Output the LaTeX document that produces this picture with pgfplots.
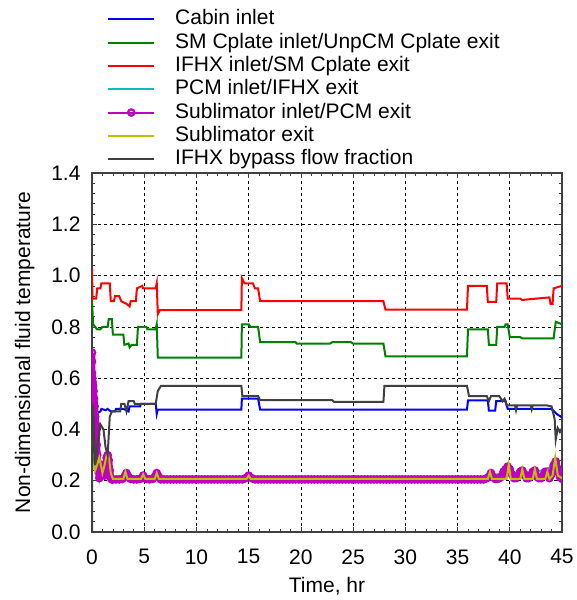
\documentclass[border=0pt]{standalone}
\usepackage{pgfplots}
\usepackage{pgfplotstable}
\pgfplotsset{compat=1.18}
\usepackage{fontspec}
\setmainfont{Liberation Sans}
\definecolor{mblue}{RGB}{0,0,255}
\definecolor{mgreen}{RGB}{0,128,0}
\definecolor{mred}{RGB}{255,0,0}
\definecolor{mcyan}{RGB}{0,191,191}
\definecolor{mmag}{RGB}{191,0,191}
\definecolor{myel}{RGB}{191,191,0}
\definecolor{mgray}{RGB}{64,64,64}
\pgfplotstableread{
x y
0 0.70
0 0.665
0 0.62
0.03 0.60
0.06 0.585
0.1 0.57
0.15 0.55
0.2 0.52
0.25 0.49
0.3 0.45
0.35 0.42
0.4 0.38
0.45 0.34
0.5 0.30
0.55 0.27
0.6 0.24
0.7 0.21
0.8 0.22
0.9 0.25
1.0 0.26
1.1 0.23
1.2 0.22
1.3 0.26
1.4 0.29
1.5 0.30
1.6 0.28
1.7 0.24
1.8 0.21
1.9 0.205
2.0 0.205
2.3 0.205
2.6 0.205
2.9 0.207
3.1 0.215
3.3 0.23
3.5 0.215
3.7 0.207
4.0 0.205
4.3 0.205
4.6 0.207
4.9 0.22
5.2 0.207
5.5 0.205
5.8 0.207
6.0 0.215
6.2 0.23
6.4 0.215
6.6 0.205
6.9 0.205
7.2 0.205
7.5 0.205
7.8 0.205
8.1 0.205
8.4 0.205
8.7 0.205
9.0 0.205
9.3 0.205
9.6 0.205
9.9 0.205
10.2 0.205
10.5 0.205
10.8 0.205
11.1 0.205
11.4 0.205
11.7 0.205
12.0 0.205
12.3 0.205
12.6 0.205
12.9 0.205
13.2 0.205
13.5 0.205
13.8 0.205
14.1 0.205
14.4 0.205
14.7 0.21
15.0 0.22
15.3 0.21
15.6 0.205
15.9 0.205
16.2 0.205
16.5 0.205
16.8 0.205
17.1 0.205
17.4 0.205
17.7 0.205
18.0 0.205
18.3 0.205
18.6 0.205
18.9 0.205
19.2 0.205
19.5 0.205
19.8 0.205
20.1 0.205
20.4 0.205
20.7 0.205
21.0 0.205
21.3 0.205
21.6 0.205
21.9 0.205
22.2 0.205
22.5 0.205
22.8 0.205
23.1 0.205
23.4 0.205
23.7 0.205
24.0 0.205
24.3 0.205
24.6 0.205
24.9 0.205
25.2 0.205
25.5 0.205
25.8 0.205
26.1 0.205
26.4 0.205
26.7 0.205
27.0 0.205
27.3 0.205
27.6 0.205
27.9 0.205
28.2 0.205
28.5 0.205
28.8 0.205
29.1 0.205
29.4 0.205
29.7 0.205
30.0 0.205
30.3 0.205
30.6 0.205
30.9 0.205
31.2 0.205
31.5 0.205
31.8 0.205
32.1 0.205
32.4 0.205
32.7 0.205
33.0 0.205
33.3 0.205
33.6 0.205
33.9 0.205
34.2 0.205
34.5 0.205
34.8 0.205
35.1 0.205
35.4 0.205
35.7 0.205
36.0 0.205
36.3 0.205
36.6 0.205
36.9 0.205
37.2 0.205
37.5 0.205
37.8 0.21
38.0 0.215
38.2 0.23
38.4 0.215
38.6 0.207
38.8 0.207
39.0 0.21
39.2 0.215
39.4 0.235
39.6 0.245
39.8 0.255
40.0 0.245
40.2 0.225
40.4 0.21
40.6 0.21
40.8 0.22
41.0 0.235
41.2 0.24
41.4 0.225
41.6 0.21
41.8 0.21
42.0 0.22
42.2 0.235
42.4 0.24
42.6 0.215
42.8 0.21
43.0 0.21
43.2 0.22
43.4 0.235
43.6 0.22
43.8 0.21
44.0 0.225
44.2 0.26
44.4 0.275
44.6 0.245
44.8 0.215
45 0.207
}\magdata
\begin{document}
\begin{tikzpicture}[font=\fontsize{21}{23}\selectfont]
\path[use as bounding box] (-92pt,-68pt) rectangle (484pt,532pt);
\begin{axis}[
  scale only axis,
  width=470pt, height=359pt,
  xmin=0, xmax=45, ymin=0, ymax=1.4,
  xtick={0,5,...,45},
  ytick={0,0.2,...,1.4},
  minor x tick num=4, minor y tick num=4,
  tick pos=both, tick align=inside,
  major tick length=5pt, minor tick length=3pt,
  tick style={black!75, line width=0.6pt},
  axis line style={black!75, line width=1.1pt},
  grid=major,
  major grid style={black, line width=0.7pt, dash pattern=on 3pt off 3pt},
  /pgf/number format/assume math mode=true,
  yticklabel style={/pgf/number format/.cd, fixed, fixed zerofill, precision=1, /tikz/.cd, xshift=-8pt},
  xticklabel style={yshift=-14pt},
  xlabel={Time, hr}, ylabel={Non-dimensional fluid temperature},
  xlabel style={yshift=-6pt},
  ylabel style={yshift=10pt},
  clip marker paths=true,
  legend cell align=left,
  legend style={draw=none, fill=none, at={(0,1)}, anchor=south west, xshift=15pt, yshift=2pt,
    inner sep=0pt, column sep=19pt, row sep=0pt,
    nodes={inner sep=1pt, text height=16.3pt, text depth=5pt}},
  legend image code/.code={\draw[mark repeat=2,mark phase=2,#1] plot coordinates {(0pt,0pt) (23pt,0pt) (46pt,0pt)};},
]
% Cabin inlet
\addplot[mblue, line width=2pt] coordinates {(0.3,0.46) (0.8,0.47) (0.9,0.48) (1.3,0.475) (1.5,0.48) (1.8,0.47) (2.2,0.47) (2.3,0.48) (3.0,0.48) (3.5,0.47) (3.6,0.49) (4.6,0.49) (4.7,0.50) (6.1,0.50) (6.2,0.46) (6.3,0.477) (14.3,0.477) (14.35,0.52) (15.9,0.52) (16.1,0.477) (35.9,0.477) (36.0,0.513) (37.9,0.513) (38.0,0.473) (38.6,0.473) (38.7,0.51) (39.6,0.51) (39.8,0.48) (44.0,0.48) (44.5,0.46) (45,0.447)};
\addlegendentry{Cabin inlet}
% SM Cplate inlet
\addplot[mgreen, line width=2pt] coordinates {(0,0.91) (0.1,0.81) (0.5,0.79) (0.8,0.79) (1.0,0.80) (1.5,0.80) (1.6,0.83) (1.9,0.83) (2.0,0.77) (3.0,0.77) (3.1,0.73) (3.5,0.735) (3.6,0.72) (3.8,0.73) (4.3,0.73) (4.4,0.80) (5.2,0.80) (5.3,0.79) (6.1,0.79) (6.2,0.81) (6.3,0.68) (14.3,0.68) (14.35,0.81) (15.0,0.81) (15.2,0.80) (15.9,0.80) (16.1,0.74) (19.5,0.74) (19.6,0.735) (22.8,0.735) (23,0.74) (24.8,0.74) (25,0.735) (27.9,0.735) (28.1,0.685) (35.9,0.685) (36.0,0.79) (37.9,0.79) (38,0.73) (38.7,0.73) (38.8,0.80) (39.5,0.80) (39.6,0.81) (39.8,0.81) (40,0.76) (41,0.76) (41.2,0.755) (44.2,0.755) (44.4,0.82) (45,0.81)};
\addlegendentry{SM Cplate inlet/UnpCM Cplate exit}
% IFHX inlet
\addplot[mred, line width=2pt] coordinates {(0,1.03) (0.05,0.91) (0.4,0.91) (0.5,0.95) (0.8,0.95) (0.9,0.97) (1.7,0.97) (1.8,0.90) (2.1,0.90) (2.2,0.92) (2.6,0.92) (2.8,0.90) (3.3,0.89) (3.6,0.88) (3.7,0.90) (4.2,0.90) (4.3,0.95) (4.8,0.96) (4.9,0.95) (6.1,0.95) (6.2,0.97) (6.3,0.85) (6.5,0.865) (14.3,0.865) (14.35,0.99) (14.6,0.97) (15.4,0.97) (15.6,0.95) (15.9,0.95) (16.1,0.90) (27.9,0.90) (28.1,0.867) (35.9,0.867) (36.0,0.96) (37.8,0.96) (37.9,0.897) (38.7,0.897) (38.8,0.97) (39.7,0.97) (39.8,0.91) (41,0.91) (41.2,0.905) (42.5,0.91) (43.8,0.915) (43.9,0.89) (44.1,0.89) (44.2,0.95) (45,0.96)};
\addlegendentry{IFHX inlet/SM Cplate exit}
% PCM inlet (hidden)
\addplot[mcyan, line width=2pt] coordinates {(0,0.68) (0.1,0.57) (0.2,0.52) (0.3,0.45) (0.4,0.38) (0.5,0.30) (0.7,0.21) (0.9,0.26) (1.1,0.22) (1.5,0.29) (1.8,0.21) (2.0,0.205) (3.3,0.22) (3.7,0.205) (4.9,0.21) (5.5,0.205) (6.2,0.22) (6.6,0.205) (14.5,0.205) (15.0,0.21) (15.5,0.205) (37.5,0.205) (39.8,0.24) (40.5,0.21) (42.3,0.23) (44.4,0.26) (45,0.205)};
\addlegendentry{PCM inlet/IFHX exit}
% Sublimator inlet: dense marker band underlay
\addplot[mmag, line width=7pt, line join=round, forget plot] table {\magdata};
\addplot[mmag, line width=2pt, mark=o, mark size=3.2pt, mark options={line width=2.2pt}] table {\magdata};
\addlegendentry{Sublimator inlet/PCM exit}
% Sublimator exit
\addplot[myel, line width=2pt] coordinates {(0,0.36) (0.1,0.33) (0.2,0.28) (0.3,0.24) (0.4,0.25) (0.55,0.27) (0.7,0.29) (0.85,0.26) (1.0,0.23) (1.2,0.26) (1.4,0.30) (1.5,0.31) (1.65,0.28) (1.8,0.23) (2.0,0.207) (3.0,0.207) (3.2,0.235) (3.4,0.207) (4.7,0.207) (4.9,0.225) (5.1,0.207) (6.0,0.207) (6.2,0.23) (6.4,0.207) (14.8,0.207) (15.0,0.22) (15.2,0.207) (37.9,0.207) (38.1,0.235) (38.3,0.207) (39.7,0.207) (39.9,0.265) (40.1,0.207) (41.0,0.207) (41.2,0.245) (41.4,0.207) (42.2,0.207) (42.4,0.245) (42.6,0.207) (43.4,0.207) (43.6,0.235) (43.8,0.207) (44.1,0.22) (44.35,0.29) (44.6,0.22) (45,0.21)};
\addlegendentry{Sublimator exit}
% IFHX bypass flow fraction
\addplot[mgray, line width=2pt] coordinates {(0,0) (0.05,0.5) (0.15,0.45) (0.3,0.26) (0.5,0.33) (0.8,0.42) (1.1,0.40) (1.3,0.33) (1.5,0.30) (1.7,0.45) (1.9,0.47) (2.7,0.47) (2.8,0.50) (3.1,0.50) (3.3,0.47) (3.5,0.51) (4.0,0.51) (4.1,0.50) (6.1,0.50) (6.3,0.55) (6.6,0.57) (14.3,0.57) (14.4,0.53) (15.9,0.53) (16.1,0.514) (23,0.514) (23.2,0.507) (27.9,0.507) (28,0.57) (35.9,0.57) (36.1,0.53) (37.8,0.53) (38,0.51) (38.2,0.53) (39.0,0.53) (39.3,0.51) (39.5,0.52) (39.7,0.494) (40.5,0.494) (40.6,0.475) (40.7,0.494) (42,0.494) (42.1,0.478) (42.2,0.494) (43.5,0.494) (44.0,0.49) (44.3,0.44) (44.4,0.36) (44.6,0.405) (44.8,0.39) (45,0.405)};
\addlegendentry{IFHX bypass flow fraction}
\end{axis}
\end{tikzpicture}
\end{document}
